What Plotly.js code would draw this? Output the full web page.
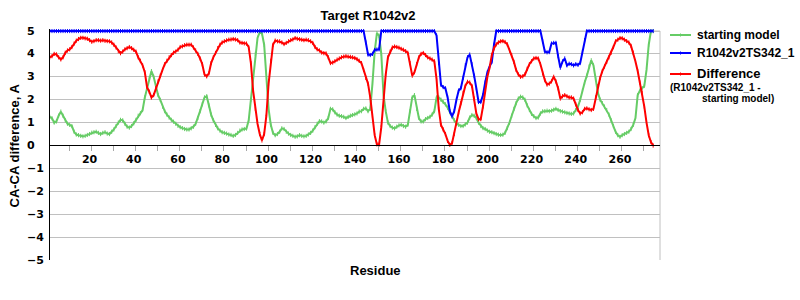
<!DOCTYPE html>
<html><head><meta charset="utf-8">
<script src="https://cdn.plot.ly/plotly-3.0.1.min.js"></script>
<style>html,body{margin:0;padding:0;background:#fff;}#chart{width:800px;height:300px;}</style>
</head><body><div id="chart"></div>
<script>
// ---- data, residues 2..275 ----
const firstResidue = 2;
const startingModel = [
1.25,1.19,1.0,1.05,1.3,1.48,1.3,1.1,0.95,0.9,
0.85,0.6,0.48,0.45,0.42,0.4,0.42,0.46,0.5,0.56,
0.58,0.6,0.55,0.5,0.55,0.58,0.52,0.5,0.6,0.7,
0.85,1.0,1.12,1.1,0.95,0.82,0.78,0.85,0.97,1.12,
1.3,1.41,1.55,2.1,2.5,2.95,3.25,3.0,2.55,2.2,
1.99,1.7,1.5,1.35,1.22,1.12,1.04,0.95,0.86,0.8,
0.76,0.72,0.7,0.7,0.75,0.82,0.95,1.2,1.5,1.8,
2.1,2.15,1.75,1.35,1.1,0.9,0.75,0.65,0.58,0.55,
0.52,0.48,0.46,0.42,0.46,0.55,0.65,0.7,0.72,0.74,
1.1,2.0,3.0,4.0,4.7,4.95,4.9,4.4,3.2,1.6,
0.9,0.55,0.45,0.5,0.6,0.75,0.72,0.6,0.52,0.46,
0.42,0.38,0.4,0.45,0.42,0.4,0.42,0.48,0.55,0.65,
0.8,0.95,1.06,1.05,1.0,1.05,1.2,1.6,1.58,1.45,
1.35,1.3,1.28,1.25,1.2,1.25,1.3,1.33,1.36,1.4,
1.48,1.5,1.6,1.62,1.5,1.6,2.7,4.1,4.9,4.8,
4.0,2.2,1.5,1.0,0.85,0.78,0.75,0.82,0.88,0.9,
0.85,0.82,0.9,1.5,2.1,2.2,1.6,1.2,1.05,1.05,
1.15,1.2,1.25,1.35,1.5,2.1,2.1,2.0,1.9,1.8,
1.65,1.45,1.3,1.1,0.95,0.9,0.85,0.85,0.92,1.0,
1.22,1.33,1.3,1.2,1.0,0.85,0.76,0.72,0.65,0.6,
0.58,0.54,0.5,0.47,0.46,0.47,0.55,0.76,1.0,1.3,
1.6,1.85,2.05,2.13,2.1,2.0,1.75,1.55,1.38,1.28,
1.2,1.22,1.4,1.49,1.5,1.52,1.5,1.52,1.56,1.6,
1.55,1.5,1.48,1.45,1.42,1.4,1.38,1.4,1.55,1.7,
2.0,2.4,2.75,3.05,3.45,3.72,3.5,2.9,2.3,2.0,
1.85,1.7,1.55,1.35,1.1,0.85,0.6,0.45,0.38,0.45,
0.5,0.55,0.6,0.72,0.9,1.2,2.2,2.4,2.5,2.6,
3.3,4.4,5.0,5.0
];
const model342 = [
5,5,5,5,5,5,5,5,5,5,
5,5,5,5,5,5,5,5,5,5,
5,5,5,5,5,5,5,5,5,5,
5,5,5,5,5,5,5,5,5,5,
5,5,5,5,5,5,5,5,5,5,
5,5,5,5,5,5,5,5,5,5,
5,5,5,5,5,5,5,5,5,5,
5,5,5,5,5,5,5,5,5,5,
5,5,5,5,5,5,5,5,5,5,
5,5,5,5,5,5,5,5,5,5,
5,5,5,5,5,5,5,5,5,5,
5,5,5,5,5,5,5,5,5,5,
5,5,5,5,5,5,5,5,5,5,
5,5,5,5,5,5,5,5,5,5,
5,5,5,4.5,3.97,3.95,4.0,4.17,4.19,4.2,
5,5,5,5,5,5,5,5,5,5,
5,5,5,5,5,5,5,5,5,5,
5,5,5,5,5,4.8,3.6,2.65,2.55,2.5,
2.1,1.5,1.27,1.5,2.0,2.4,2.5,2.95,3.5,3.85,
3.97,3.55,3.05,2.5,1.9,1.9,2.2,2.75,3.2,3.45,
3.65,4.4,5,5,5,5,5,5,5,5,
5,5,5,5,5,5,5,5,5,5,
5,5,5,4.55,4.1,4.07,4.08,4.45,4.48,4.48,
3.9,3.4,3.67,3.8,3.5,3.57,3.55,3.5,3.55,3.52,
3.6,4.1,4.6,5,5,5,5,5,5,5,
5,5,5,5,5,5,5,5,5,5,
5,5,5,5,5,5,5,5,5,5,
5,5,5,5
];
const difference = [
3.85,3.9,4.0,3.98,3.85,3.76,3.85,4.05,4.15,4.2,
4.3,4.45,4.58,4.65,4.7,4.7,4.68,4.66,4.6,4.53,
4.56,4.6,4.6,4.58,4.6,4.57,4.56,4.55,4.5,4.4,
4.28,4.12,4.03,4.1,4.2,4.25,4.3,4.25,4.18,4.1,
3.85,3.7,3.5,3.2,2.55,2.35,2.1,2.2,2.5,2.8,
3.05,3.3,3.55,3.7,3.85,3.95,4.05,4.1,4.18,4.3,
4.33,4.38,4.4,4.4,4.4,4.28,4.15,4.0,3.8,3.55,
3.1,3.02,3.15,3.6,3.85,4.04,4.25,4.4,4.5,4.55,
4.59,4.62,4.63,4.65,4.63,4.6,4.5,4.48,4.46,4.45,
4.3,3.6,2.4,1.6,0.95,0.5,0.22,0.5,1.3,2.7,
3.7,4.4,4.58,4.55,4.55,4.5,4.43,4.48,4.55,4.6,
4.63,4.69,4.66,4.64,4.62,4.6,4.62,4.6,4.55,4.48,
4.3,4.2,4.15,4.06,4.03,4.02,3.85,3.6,3.62,3.68,
3.75,3.8,3.85,3.88,3.9,3.88,3.87,3.85,3.82,3.77,
3.7,3.6,3.3,2.95,2.7,2.1,1.3,0.45,0.05,0.04,
0.8,1.95,3.1,3.85,4.1,4.28,4.32,4.3,4.27,4.22,
4.18,4.12,4.05,3.6,3.05,3.2,3.55,3.85,4.0,4.04,
3.95,3.85,3.8,3.75,3.68,2.9,1.6,0.9,0.7,0.5,
0.2,0.03,0.1,0.5,1.0,1.45,1.85,2.3,2.6,2.78,
2.75,2.6,2.05,1.4,1.15,1.15,1.7,2.4,3.0,3.4,
3.95,4.25,4.42,4.5,4.55,4.56,4.52,4.42,4.15,3.95,
3.65,3.3,3.1,3.0,3.02,3.1,3.35,3.55,3.68,3.8,
3.82,3.8,3.55,3.15,2.85,2.66,2.7,2.8,3.0,2.8,
2.5,2.05,2.15,2.2,2.15,2.1,2.1,2.05,1.8,1.55,
1.4,1.45,1.6,1.62,1.58,1.55,1.6,2.1,2.6,2.95,
3.25,3.45,3.65,3.85,4.05,4.3,4.55,4.62,4.69,4.68,
4.62,4.56,4.5,4.35,4.05,3.67,3.25,2.75,2.3,1.7,
1.0,0.45,0.15,0.0
];
const xTickLabels = [20,40,60,80,100,120,140,160,180,200,220,240,260];
const yTickValues = [-5,-4,-3,-2,-1,0,1,2,3,4,5];
const seriesNames = ['starting model','R1042v2TS342_1','Difference'];
const differenceNote = ['(R1042v2TS342_1 -','starting model)'];
const chartTitle = 'Target R1042v2';
const xTitle = 'Residue';
const yTitle = 'CA-CA difference, A';

// ---- layout geometry ----
const W = 800, H = 300;
const M = {l: 50, r: 140, t: 29, b: 40};
const plotW = W - M.l - M.r, plotH = H - M.t - M.b;
const yMin = -5, yMax = 5.0873;
const xRange = [2.1, 278.1];
const px2x = p => (p - M.l) / plotW;
const py2y = p => (H - M.b - p) / plotH;

const colors = ['#66cc66', '#0000ff', '#ff0000'];
const residues = startingModel.map((_, i) => firstResidue + i);
const seriesValues = [startingModel, model342, difference];

const bold = (size, family) => ({family: family || 'Liberation Sans, Arial, sans-serif', size: size, color: '#000', weight: 'bold'});
const tickFont = bold(11, 'DejaVu Sans, Verdana, sans-serif');

const traces = seriesValues.map((vals, k) => ({
  type: 'scatter', mode: 'lines+markers', x: residues, y: vals, name: seriesNames[k],
  line: {color: colors[k], width: 2},
  marker: {symbol: 'line-ns', size: 3, color: colors[k], line: {color: colors[k], width: 1}},
  hoverinfo: 'skip'
}));

const fmt = v => (v < 0 ? '\u2212' + Math.abs(v) : String(v));
const annotations = [];
yTickValues.forEach(v => annotations.push({
  xref: 'paper', yref: 'y', x: px2x(26), y: v, xanchor: 'left', yanchor: 'middle',
  text: fmt(v), showarrow: false, font: tickFont, borderpad: 0
}));
annotations.push({xref: 'paper', yref: 'y', x: px2x(14), y: 0, xanchor: 'center', yanchor: 'middle',
  textangle: -90, text: yTitle, showarrow: false, font: bold(13)});
annotations.push({xref: 'paper', yref: 'paper', x: px2x(375.5), y: py2y(270), xanchor: 'center', yanchor: 'middle',
  text: xTitle, showarrow: false, font: bold(13)});

// legend
const legendRows = [35, 53, 74];
const shapes = [];
seriesNames.forEach((name, k) => {
  shapes.push({type: 'line', xref: 'paper', yref: 'paper', x0: px2x(670), x1: px2x(691),
    y0: py2y(legendRows[k]), y1: py2y(legendRows[k]), line: {color: colors[k], width: 2}});
  shapes.push({type: 'line', xref: 'paper', yref: 'paper', x0: px2x(680.5), x1: px2x(680.5),
    y0: py2y(legendRows[k] - 1.5), y1: py2y(legendRows[k] + 1.5), line: {color: colors[k], width: 1}});
  annotations.push({xref: 'paper', yref: 'paper', x: px2x(696), y: py2y(legendRows[k]), xanchor: 'left', yanchor: 'middle',
    text: name, showarrow: false, font: bold(k === 2 ? 13 : 12), borderpad: 0});
});
annotations.push({xref: 'paper', yref: 'paper', x: px2x(669), y: py2y(87), xanchor: 'left', yanchor: 'middle',
  text: differenceNote[0], showarrow: false, font: bold(10), borderpad: 0});
annotations.push({xref: 'paper', yref: 'paper', x: px2x(701), y: py2y(98), xanchor: 'left', yanchor: 'middle',
  text: differenceNote[1], showarrow: false, font: bold(10), borderpad: 0});

// plot border (gray)
shapes.push({type: 'line', xref: 'paper', yref: 'y', x0: 1, x1: 1, y0: yMin, y1: 5, line: {color: '#c0c0c0', width: 1}, layer: 'below'});
shapes.push({type: 'line', xref: 'paper', yref: 'y', x0: 0, x1: 1, y0: 5, y1: 5, line: {color: '#c0c0c0', width: 1}, layer: 'below'});

const layout = {
  width: W, height: H, margin: {l: M.l, r: M.r, t: M.t, b: M.b, pad: 0},
  paper_bgcolor: '#fff', plot_bgcolor: '#fff', showlegend: false,
  title: {text: chartTitle, font: bold(13), xref: 'container', yref: 'container',
    x: 368 / W, xanchor: 'center', y: 1 - 15 / H, yanchor: 'middle'},
  xaxis: {
    range: xRange, anchor: 'free', position: (0 - yMin) / (yMax - yMin),
    showgrid: false, zeroline: false, showline: true, linecolor: '#000', linewidth: 1,
    tickmode: 'array', tickvals: xTickLabels, ticktext: xTickLabels.map(String),
    ticks: '', tickfont: tickFont, ticklabelstandoff: 3,
    minor: {ticks: 'outside', ticklen: 5, tickcolor: '#a8a8a8', tickwidth: 1, tick0: 10.8, dtick: 10, showgrid: false}
  },
  yaxis: {
    range: [yMin, yMax], tickmode: 'array', tickvals: yTickValues, showticklabels: false, ticks: '',
    showgrid: true, gridcolor: '#c0c0c0', gridwidth: 1, zeroline: false,
    showline: true, linecolor: '#000', linewidth: 1
  },
  shapes: shapes, annotations: annotations
};

Plotly.newPlot('chart', traces, layout, {staticPlot: true, displayModeBar: false});
</script></body></html>
